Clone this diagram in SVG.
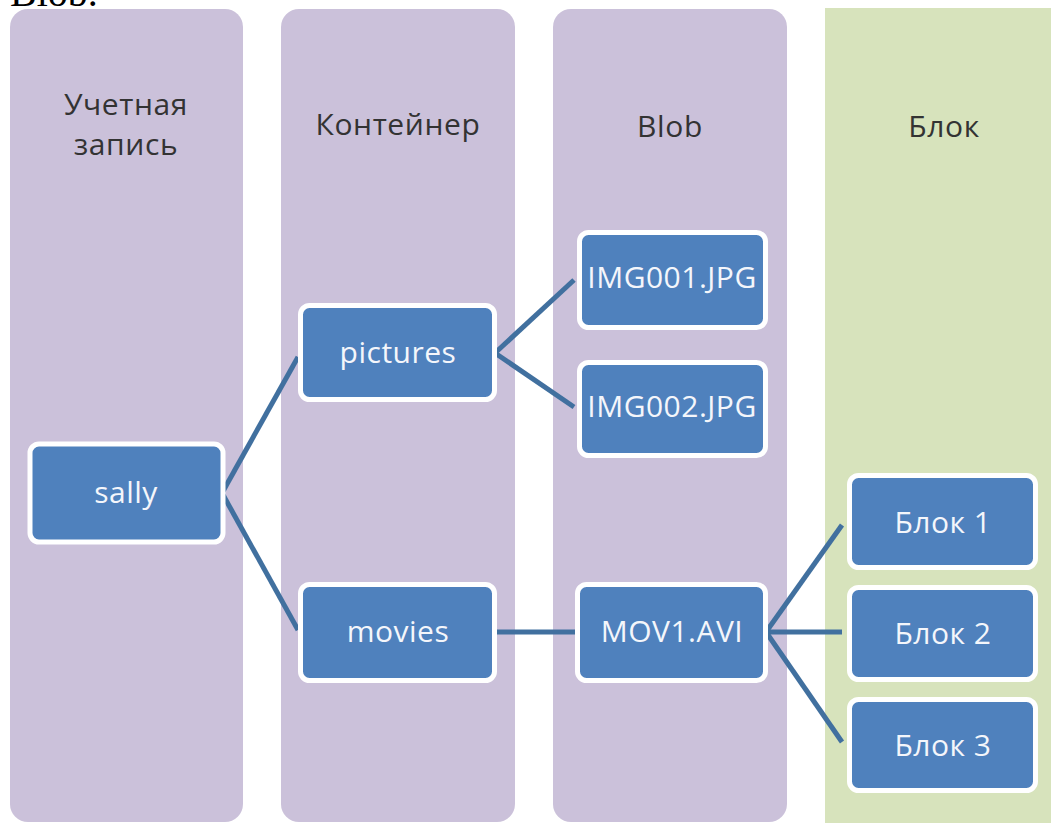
<svg xmlns="http://www.w3.org/2000/svg" width="1051" height="823" viewBox="0 0 1051 823">
<style>
.col{fill:#cbc1da}
.green{fill:#d7e3bc}
.node rect{fill:#4f81bd;stroke:#ffffff;stroke-width:5}
.node text{fill:#f4f6fb;font-family:"Open Sans","Noto Sans",sans-serif;font-size:30px;letter-spacing:0.5px;text-anchor:middle}
.hdr{fill:#333333;font-family:"Open Sans","Noto Sans",sans-serif;font-size:30px;letter-spacing:0.6px;text-anchor:middle}
#connectors line{stroke:#41709f;stroke-width:5;stroke-linecap:butt}
</style>
<rect width="1051" height="823" fill="#ffffff"/>
<text x="10" y="6" font-family="Liberation Serif, serif" font-size="40" fill="#000000">Blob.</text>
<g id="columns">
<rect class="col" x="10" y="9" width="233" height="813" rx="18"/>
<rect class="col" x="281" y="9" width="234" height="813" rx="18"/>
<rect class="col" x="553" y="9" width="234" height="813" rx="18"/>
<rect class="green" x="825" y="8" width="226" height="815"/>
</g>
<g id="headers">
<text class="hdr" x="126" y="115">Учетная</text>
<text class="hdr" x="126" y="155">запись</text>
<text class="hdr" x="398" y="135">Контейнер</text>
<text class="hdr" x="670" y="137">Blob</text>
<text class="hdr" x="944" y="137">Блок</text>
</g>
<g id="connectors">
<line x1="222" y1="493" x2="298" y2="357"/>
<line x1="222" y1="493" x2="298" y2="630"/>
<line x1="495" y1="353" x2="574" y2="280"/>
<line x1="495" y1="353" x2="574" y2="407"/>
<line x1="497" y1="632" x2="577" y2="632"/>
<line x1="766" y1="632" x2="842" y2="525"/>
<line x1="766" y1="632" x2="842" y2="632"/>
<line x1="766" y1="632" x2="842" y2="742"/>
</g>
<g id="sally" class="node"><rect x="30" y="444" width="193" height="98" rx="9"/><text x="126" y="503">sally</text></g>
<g id="pictures" class="node"><rect x="300.5" y="305.5" width="194" height="94" rx="9"/><text x="398" y="363">pictures</text></g>
<g id="movies" class="node"><rect x="300.5" y="584.5" width="194" height="96" rx="9"/><text x="398" y="642">movies</text></g>
<g id="img001" class="node"><rect x="579.5" y="232.5" width="186" height="95" rx="9"/><text x="672" y="288">IMG001.JPG</text></g>
<g id="img002" class="node"><rect x="579.5" y="362.5" width="186" height="93" rx="9"/><text x="672" y="417">IMG002.JPG</text></g>
<g id="mov1" class="node"><rect x="577.5" y="584.5" width="188" height="96" rx="9"/><text x="672" y="642">MOV1.AVI</text></g>
<g id="blok1" class="node"><rect x="849.5" y="475.5" width="186" height="92" rx="9"/><text x="943" y="533">Блок 1</text></g>
<g id="blok2" class="node"><rect x="849.5" y="587.5" width="186" height="92" rx="9"/><text x="943" y="644">Блок 2</text></g>
<g id="blok3" class="node"><rect x="849.5" y="699.5" width="186" height="91" rx="9"/><text x="943" y="756">Блок 3</text></g>
</svg>
